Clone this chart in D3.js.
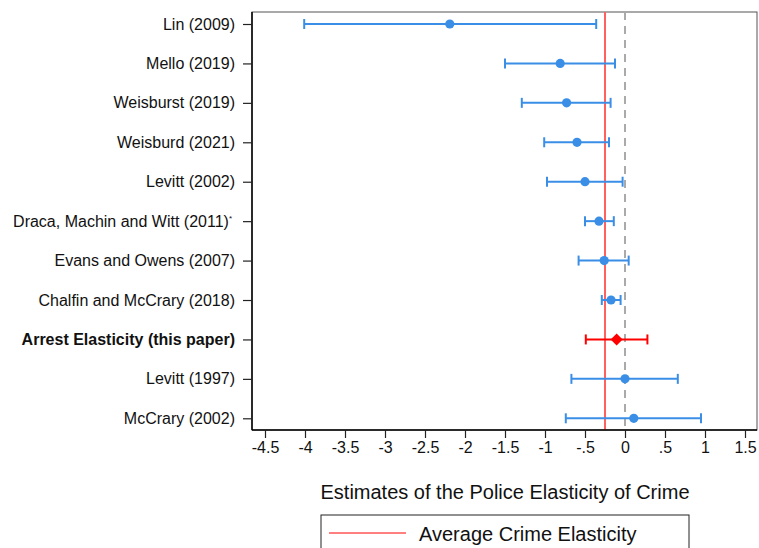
<!DOCTYPE html>
<html>
<head>
<meta charset="utf-8">
<script src="https://cdn.jsdelivr.net/npm/d3@7"></script>
<style>
  body { margin: 0; background: #fff; }
  svg { display: block; font-family: "Liberation Sans", Arial, Helvetica, sans-serif; }
</style>
</head>
<body>
<script>
// Study labels, top to bottom
var studies = ['Lin (2009)', 'Mello (2019)', 'Weisburst (2019)', 'Weisburd (2021)', 'Levitt (2002)',
  'Draca, Machin and Witt (2011)', 'Evans and Owens (2007)', 'Chalfin and McCrary (2018)',
  'Arrest Elasticity (this paper)', 'Levitt (1997)', 'McCrary (2002)'];
var estimates = [-2.19, -0.81, -0.73, -0.60, -0.50, -0.325, -0.26, -0.175, -0.105, 0.0, 0.11];
var lower = [-4.01, -1.50, -1.29, -1.01, -0.975, -0.50, -0.58, -0.29, -0.49, -0.67, -0.74];
var upper = [-0.36, -0.125, -0.18, -0.20, -0.03, -0.14, 0.046, -0.055, 0.28, 0.66, 0.95];
var highlight = 'Arrest Elasticity (this paper)';
var avgElasticity = -0.25;
var xTicks = [-4.5, -4, -3.5, -3, -2.5, -2, -1.5, -1, -0.5, 0, 0.5, 1, 1.5];

var W = 759, H = 548;
var blue = '#3a8ee6', red = '#ff0000';
var svg = d3.select('body').append('svg').attr('width', W).attr('height', H);

var plot = { left: 252, right: 757, top: 12, bottom: 430 };
var x = d3.scaleLinear().domain([-4.5, 1.5]).range([265, 745]);
var y = d3.scalePoint().domain(studies).range([24, 418.3]);

var rows = studies.map(function (s, i) {
  return { name: s, est: estimates[i], lo: lower[i], hi: upper[i] };
});

// Stata-style labels: hyphen minus, no leading zero
function fmt(d) {
  var s = String(d);
  return s.replace(/^0\./, '.').replace(/^-0\./, '-.');
}

// frame
svg.append('rect').attr('x', plot.left).attr('y', plot.top)
  .attr('width', plot.right - plot.left).attr('height', plot.bottom - plot.top)
  .attr('fill', 'none').attr('stroke', '#555').attr('stroke-width', 1);

// reference lines
svg.append('line').attr('x1', x(0)).attr('x2', x(0)).attr('y1', plot.top).attr('y2', plot.bottom)
  .attr('stroke', '#aaa').attr('stroke-width', 2).attr('stroke-dasharray', '8,6');
svg.append('line').attr('x1', x(avgElasticity)).attr('x2', x(avgElasticity)).attr('y1', plot.top).attr('y2', plot.bottom)
  .attr('stroke', '#ff6060').attr('stroke-width', 2);

// axes
var xAxis = svg.append('g').attr('transform', 'translate(0,' + plot.bottom + ')')
  .call(d3.axisBottom(x).tickValues(xTicks).tickSize(8).tickPadding(4).tickFormat(fmt));
xAxis.select('.domain').attr('d', 'M' + plot.left + ',0H' + plot.right).attr('stroke', '#000').attr('stroke-width', 1.5);
xAxis.selectAll('.tick line').attr('stroke', '#222').attr('stroke-width', 1.2);
xAxis.selectAll('.tick text').attr('font-size', 16).attr('fill', '#111')
  .attr('font-family', '"Liberation Sans", Arial, sans-serif');

var yAxis = svg.append('g').attr('transform', 'translate(' + plot.left + ',0)')
  .call(d3.axisLeft(y).tickSize(9).tickPadding(8));
yAxis.select('.domain').attr('d', 'M0,' + plot.top + 'V' + plot.bottom).attr('stroke', '#000').attr('stroke-width', 1.5);
yAxis.selectAll('.tick line').attr('stroke', '#222').attr('stroke-width', 1.2);
yAxis.selectAll('.tick text').attr('font-size', 16).attr('fill', '#111')
  .attr('font-family', '"Liberation Sans", Arial, sans-serif')
  .attr('font-weight', function (d) { return d === highlight ? 'bold' : null; })
  .each(function (d) {
    if (d.indexOf('Draca') === 0) {
      d3.select(this).attr('dx', '-3').append('tspan').attr('font-size', 8).attr('dy', '-6').text('*');
    }
  });

// error bars
var g = svg.append('g');
var bars = g.selectAll('g.row').data(rows).join('g').attr('class', 'row')
  .attr('stroke', function (d) { return d.name === highlight ? red : blue; })
  .attr('stroke-width', 2);
bars.append('line').attr('x1', function (d) { return x(d.lo); }).attr('x2', function (d) { return x(d.hi); })
  .attr('y1', function (d) { return y(d.name); }).attr('y2', function (d) { return y(d.name); });
bars.append('line').attr('x1', function (d) { return x(d.lo); }).attr('x2', function (d) { return x(d.lo); })
  .attr('y1', function (d) { return y(d.name) - 5; }).attr('y2', function (d) { return y(d.name) + 5; });
bars.append('line').attr('x1', function (d) { return x(d.hi); }).attr('x2', function (d) { return x(d.hi); })
  .attr('y1', function (d) { return y(d.name) - 5; }).attr('y2', function (d) { return y(d.name) + 5; });

// markers
g.selectAll('circle').data(rows.filter(function (d) { return d.name !== highlight; })).join('circle')
  .attr('cx', function (d) { return x(d.est); }).attr('cy', function (d) { return y(d.name); })
  .attr('r', 4.6).attr('fill', blue);
g.selectAll('path.dia').data(rows.filter(function (d) { return d.name === highlight; })).join('path')
  .attr('class', 'dia')
  .attr('transform', function (d) { return 'translate(' + x(d.est) + ',' + y(d.name) + ')'; })
  .attr('d', 'M0,-6L6,0L0,6L-6,0Z').attr('fill', red);

// x title
svg.append('text').attr('x', 505).attr('y', 499).attr('text-anchor', 'middle')
  .attr('font-size', 20).attr('fill', '#111').text('Estimates of the Police Elasticity of Crime');

// legend
svg.append('rect').attr('x', 321).attr('y', 515).attr('width', 368).attr('height', 50)
  .attr('fill', 'none').attr('stroke', '#222').attr('stroke-width', 1);
svg.append('line').attr('x1', 329).attr('x2', 406).attr('y1', 533).attr('y2', 533)
  .attr('stroke', red).attr('stroke-width', 1);
svg.append('text').attr('x', 419).attr('y', 541).attr('font-size', 20).attr('fill', '#111')
  .text('Average Crime Elasticity');
</script>
</body>
</html>
